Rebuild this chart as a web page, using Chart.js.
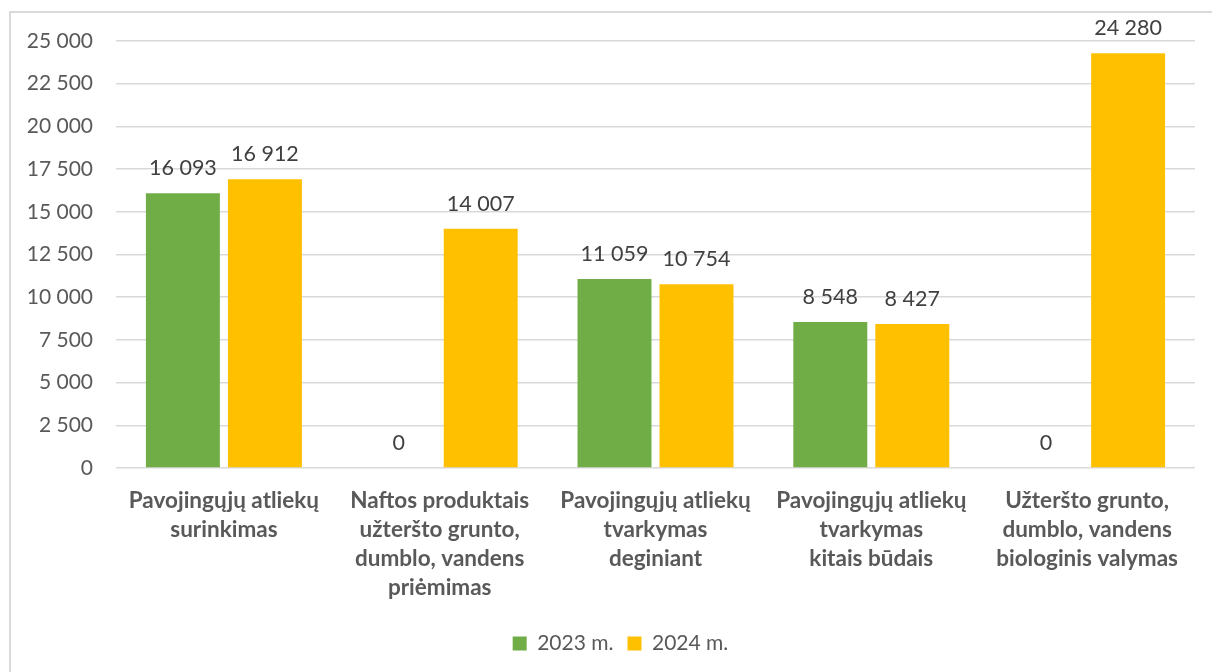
<!DOCTYPE html>
<html>
<head>
<meta charset="utf-8">
<script src="https://cdn.jsdelivr.net/npm/chart.js@4"></script>
<style>
  html, body { margin: 0; padding: 0; background: #fff; overflow: hidden; }
  #frame { position: absolute; left: 9px; top: 11px; width: 1230px; height: 700px; border: 2px solid #d9d9d9; }
  #wrap { position: absolute; left: 0; top: 0; width: 1212px; height: 672px; }
</style>
</head>
<body>
<div id="frame"></div>
<div id="wrap"><canvas id="chart"></canvas></div>
<script>
const categories = [
  ["Pavojingųjų atliekų", "surinkimas"],
  ["Naftos produktais", "užteršto grunto,", "dumblo, vandens", "priėmimas"],
  ["Pavojingųjų atliekų", "tvarkymas", "deginiant"],
  ["Pavojingųjų atliekų", "tvarkymas", "kitais būdais"],
  ["Užteršto grunto,", "dumblo, vandens", "biologinis valymas"]
];
const seriesNames = ["2023 m.", "2024 m."];
const values2023 = [16093, 0, 11059, 8548, 0];
const values2024 = [16912, 14007, 10754, 8427, 24280];
const yTicks = [0, 2500, 5000, 7500, 10000, 12500, 15000, 17500, 20000, 22500, 25000];

const FONT = "Lato, 'Open Sans', sans-serif";

// number with space as thousands separator
function fmt(v) {
  return String(v).replace(/\B(?=(\d{3})+(?!\d))/g, ' ');
}

// value labels above bars
const barLabels = {
  id: 'barLabels',
  afterDatasetsDraw(chart) {
    const ctx = chart.ctx;
    ctx.save();
    ctx.font = "21.5px " + FONT;
    ctx.fillStyle = "#404040";
    ctx.textAlign = "center";
    ctx.textBaseline = "middle";
    chart.data.datasets.forEach((ds, i) => {
      const meta = chart.getDatasetMeta(i);
      meta.data.forEach((bar, j) => {
        ctx.fillText(fmt(ds.data[j]), bar.x, bar.y - 25);
      });
    });
    ctx.restore();
  }
};

// legend is centred on the frame, not the canvas
const legendShift = {
  id: 'legendShift',
  afterLayout(chart) {
    if (chart.legend) chart.legend.left += 46;
  }
};

const ctx = document.getElementById("chart").getContext("2d");
// eslint-disable-next-line no-unused-vars
const chart = new Chart(ctx, {
  type: "bar",
  data: {
    labels: categories,
    datasets: [
      { label: seriesNames[0], data: values2023, backgroundColor: "#70AD47" },
      { label: seriesNames[1], data: values2024, backgroundColor: "#FFC000" }
    ]
  },
  options: {
    responsive: true,
    maintainAspectRatio: false,
    animation: false,
    categoryPercentage: 0.76,
    barPercentage: 0.902,
    layout: {
      padding: { top: 41, right: 17, bottom: 8, left: 0 }
    },
    plugins: {
      legend: {
        position: "bottom",
        labels: {
          boxWidth: 14,
          boxHeight: 14,
          padding: 14,
          color: "#595959",
          font: { family: FONT, size: 21 }
        }
      },
      tooltip: { enabled: false }
    },
    scales: {
      x: {
        grid: { display: false, drawTicks: false },
        border: { display: false },
        ticks: {
          color: "#595959",
          padding: 18,
          maxRotation: 0,
          autoSkip: false,
          font: { family: FONT, size: 22.5, weight: "bold", lineHeight: 1.29 }
        },
        afterFit(scale) { scale.height = 151; }
      },
      y: {
        min: 0,
        max: 25000,
        afterBuildTicks(scale) { scale.ticks = yTicks.map(v => ({ value: v })); },
        grid: { color: "#d9d9d9", lineWidth: 1.5, drawTicks: false },
        border: { display: false },
        ticks: {
          color: "#595959",
          padding: 23,
          font: { family: FONT, size: 21 },
          callback: (v) => fmt(v)
        },
        afterFit(scale) { scale.width = 116; }
      }
    }
  },
  plugins: [barLabels, legendShift]
});
</script>
</body>
</html>
